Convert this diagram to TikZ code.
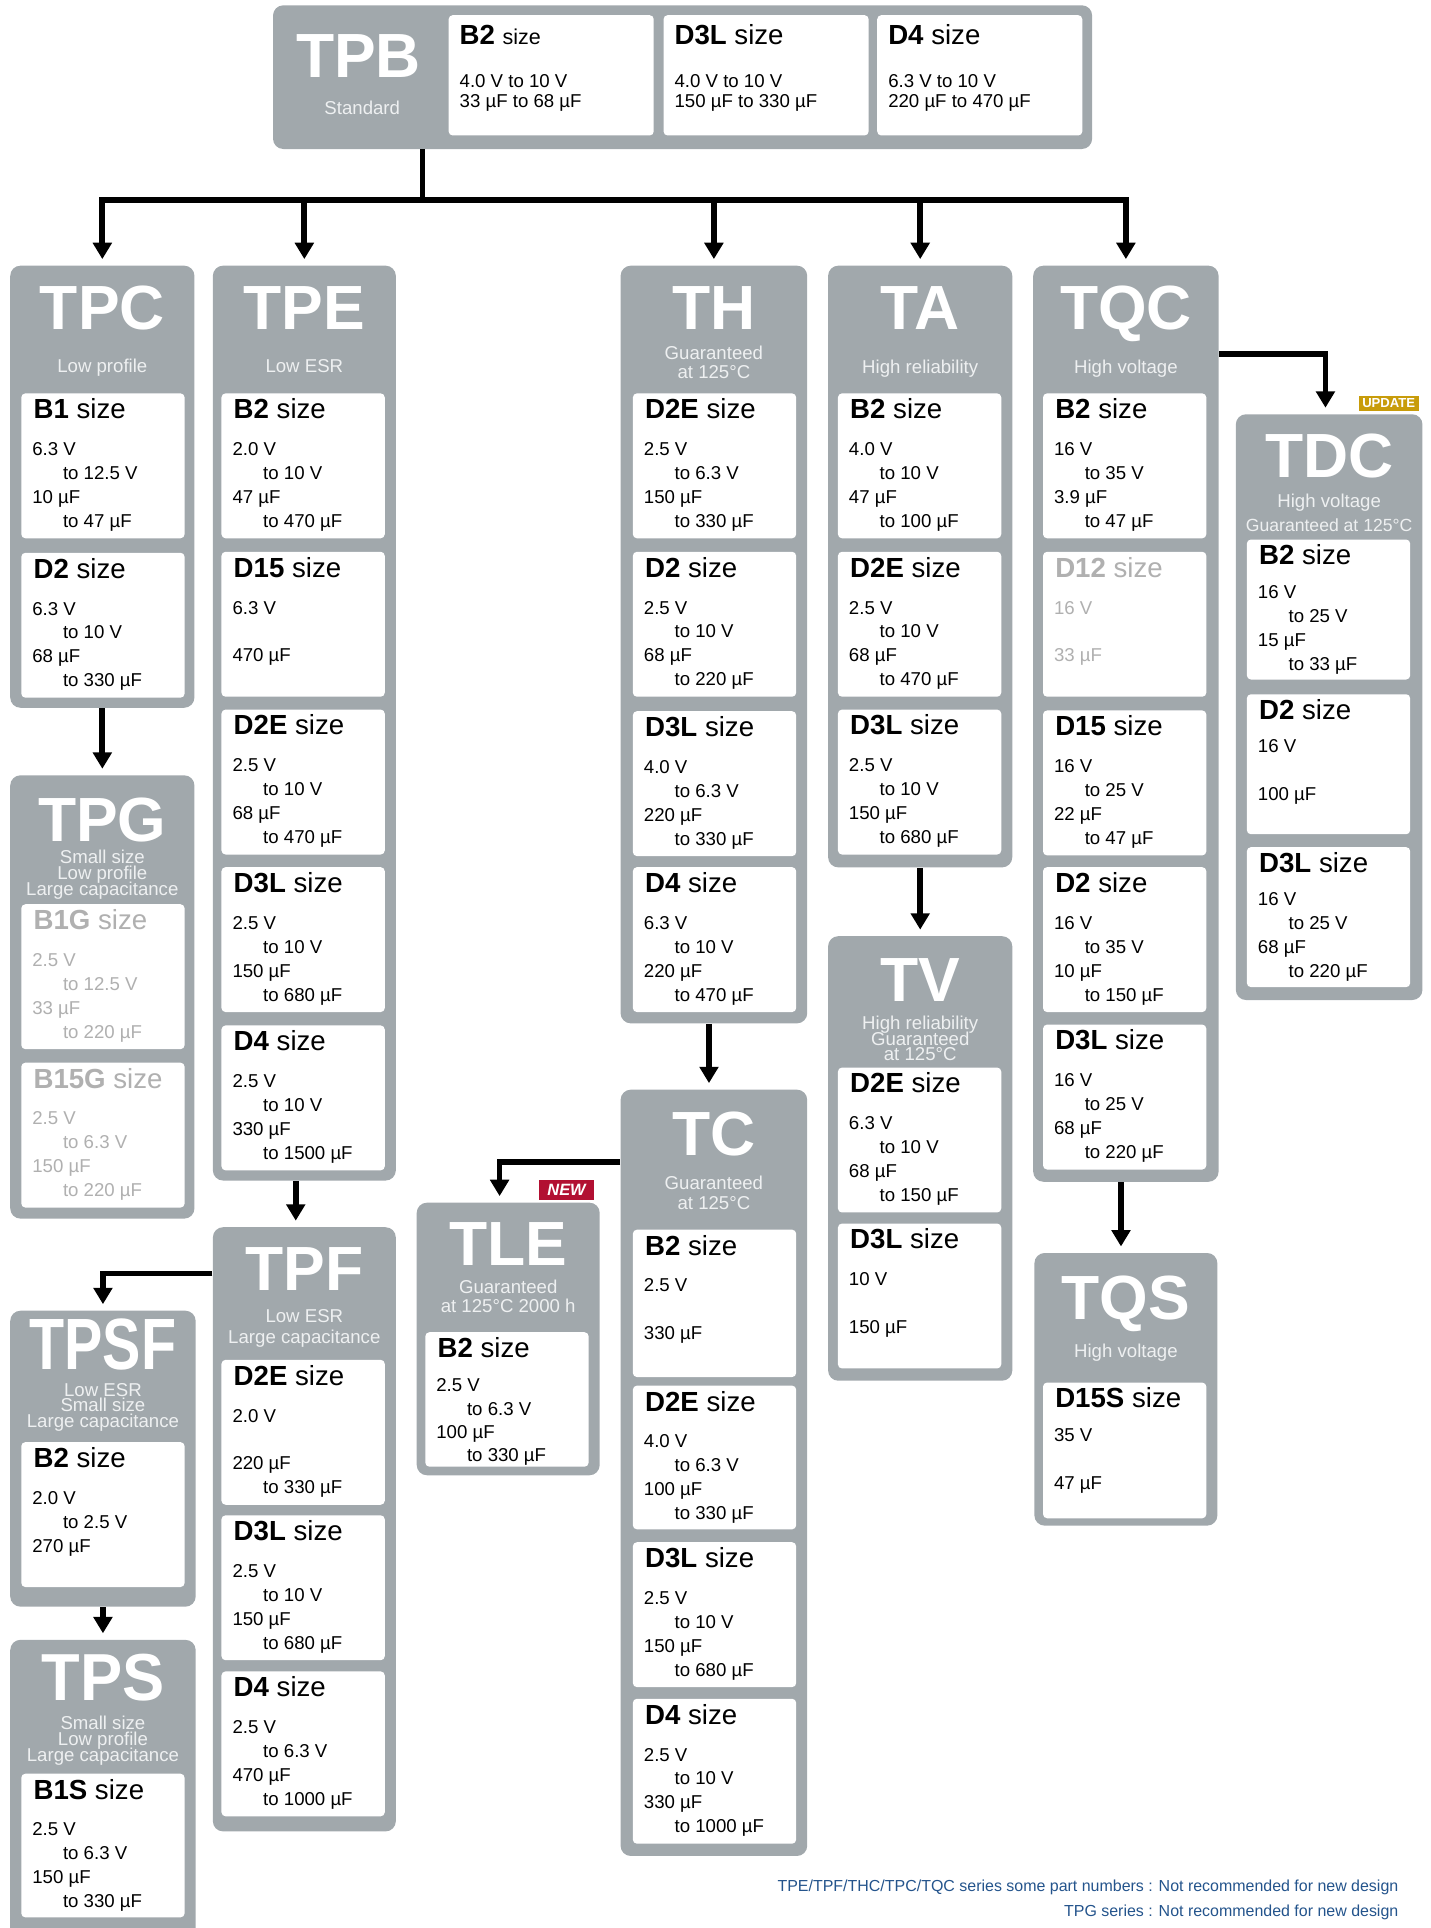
\documentclass[tikz,border=0pt]{standalone}
\usepackage{fontspec}
\usepackage{graphicx}
\setmainfont{Liberation Sans}
\usetikzlibrary{arrows.meta,calc}

\definecolor{seriesgray}{RGB}{161,168,172}
\definecolor{subwhite}{RGB}{238,240,241}
\definecolor{oldgray}{RGB}{176,176,176}
\definecolor{newred}{RGB}{178,16,50}
\definecolor{updgold}{RGB}{200,156,10}
\definecolor{noteblue}{RGB}{36,84,140}

\tikzset{
  serbox/.style={fill=seriesgray, rounded corners=5pt, inner sep=0pt, anchor=north west},
  capbox/.style={fill=white, rounded corners=2pt, inner sep=0pt, anchor=north west, minimum width=133*0.6pt},
  sertitle/.style={text=white, font=\fontsize{30.5}{31}\selectfont\bfseries, anchor=base, inner sep=0pt},
  sersub/.style={text=subwhite, font=\fontsize{9.1}{10}\selectfont, anchor=base, inner sep=0pt},
  caphead/.style={font=\fontsize{13.5}{15}\selectfont, anchor=base west, inner sep=0pt},
  captext/.style={font=\fontsize{9.1}{10}\selectfont, anchor=base west, inner sep=0pt},
  note/.style={text=noteblue, font=\fontsize{7.8}{9}\selectfont, anchor=base east, inner sep=0pt},
  badge/.style={text=white, inner sep=0pt, anchor=north west},
  feed/.style={line width=2.8pt, -{Triangle[width=9pt,length=8pt]}, shorten >=3pt},
  wd/.style={minimum width=#1*0.6pt},
  ht/.style={minimum height=#1*0.6pt},
}

\newcommand{\tto}{\hspace*{15pt}to\ }
\newcommand{\firstline}{51}
\newcommand{\linestep}{19.5}

% one white size box: [colour]{name}{x}{top}{height}{size}{value lines}
\newcommand{\sizebox}[7][black]{%
  \node[capbox, ht=#5] (#2) at (#3,#4) {};
  \node[caphead, text=#1] (#2-h) at ($(#2.north west)+(10,21)$) {\textbf{#6} size};
  \foreach \val [count=\k] in {#7}
    \node[captext, text=#1] (#2-\k) at ($(#2.north west)+(9,{\firstline+\linestep*(\k-1)})$) {\val};
}
% the wide boxes of the top row: {name}{x}{heading}{voltage}{capacitance}
\newcommand{\widebox}[5]{%
  \node[capbox, wd=167, ht=98] (#1) at (#2,12) {};
  \node[caphead] (#1-h) at ($(#1.north west)+(9,24.6)$) {#3};
  \node[captext] (#1-1) at ($(#1.north west)+(9,59)$) {#4};
  \node[captext] (#1-2) at ($(#1.north west)+(9,75.4)$) {#5};
}
% subtitle lines under a series name: {series}{first baseline}{step}{lines}
\newcommand{\subs}[4]{%
  \foreach \s [count=\k] in {#4}
    \node[sersub] (#1-s\k) at ($(#1.north)+(0,{#2+#3*(\k-1)})$) {\s};
}

\begin{document}
\begin{tikzpicture}[x=0.6pt, y=-0.6pt]
\useasboundingbox (0,0) rectangle (1165,1570);

% standard series on top
\node[serbox, wd=667, ht=117] (tpb) at (222,4) {};
\node[sertitle] (tpb-t) at ($(tpb.north west)+(70,59)$) {TPB};
\node[sersub] (tpb-s1) at ($(tpb.north west)+(73,89)$) {Standard};
\widebox{tpb-b2}{365}{\textbf{B2} {\fontsize{10.5}{12}\selectfont size}}{4.0 V to 10 V}{33 µF to 68 µF}
\widebox{tpb-d3l}{540}{\textbf{D3L} size}{4.0 V to 10 V}{150 µF to 330 µF}
\widebox{tpb-d4}{714}{\textbf{D4} size}{6.3 V to 10 V}{220 µF to 470 µF}

% TPC
\node[serbox, wd=150, ht=360] (tpc) at (8,216) {};
\node[sertitle] (tpc-t) at ($(tpc.north)+(0,52.7)$) {TPC};
\subs{tpc}{87.5}{0}{Low profile}
\sizebox{tpc-b1}{17}{320}{118}{B1}{6.3 V, \tto 12.5 V, 10 µF, \tto 47 µF}
\sizebox{tpc-d2}{17}{449.8}{118}{D2}{6.3 V, \tto 10 V, 68 µF, \tto 330 µF}

% TPE
\node[serbox, wd=149, ht=745] (tpe) at (173,216) {};
\node[sertitle] (tpe-t) at ($(tpe.north)+(0,52.7)$) {TPE};
\subs{tpe}{87.5}{0}{Low ESR}
\sizebox{tpe-b2}{180}{320}{118}{B2}{2.0 V, \tto 10 V, 47 µF, \tto 470 µF}
\sizebox{tpe-d15}{180}{449}{118}{D15}{6.3 V, , 470 µF}
\sizebox{tpe-d2e}{180}{577.5}{118}{D2E}{2.5 V, \tto 10 V, 68 µF, \tto 470 µF}
\sizebox{tpe-d3l}{180}{705.8}{118}{D3L}{2.5 V, \tto 10 V, 150 µF, \tto 680 µF}
\sizebox{tpe-d4}{180}{834.7}{118}{D4}{2.5 V, \tto 10 V, 330 µF, \tto 1500 µF}

% TH
\node[serbox, wd=152, ht=617] (th) at (505,216) {};
\node[sertitle] (th-t) at ($(th.north)+(0,52.7)$) {TH};
\subs{th}{76.5}{16}{Guaranteed, at 125°C}
\sizebox{th-d2e}{515}{320}{118}{D2E}{2.5 V, \tto 6.3 V, 150 µF, \tto 330 µF}
\sizebox{th-d2}{515}{449}{118}{D2}{2.5 V, \tto 10 V, 68 µF, \tto 220 µF}
\sizebox{th-d3l}{515}{578.8}{118}{D3L}{4.0 V, \tto 6.3 V, 220 µF, \tto 330 µF}
\sizebox{th-d4}{515}{705.8}{118}{D4}{6.3 V, \tto 10 V, 220 µF, \tto 470 µF}

% TA
\node[serbox, wd=150, ht=490] (ta) at (674,216) {};
\node[sertitle] (ta-t) at ($(ta.north)+(0,52.7)$) {TA};
\subs{ta}{88.5}{0}{High reliability}
\sizebox{ta-b2}{682}{320}{118}{B2}{4.0 V, \tto 10 V, 47 µF, \tto 100 µF}
\sizebox{ta-d2e}{682}{449}{118}{D2E}{2.5 V, \tto 10 V, 68 µF, \tto 470 µF}
\sizebox{ta-d3l}{682}{577.5}{118}{D3L}{2.5 V, \tto 10 V, 150 µF, \tto 680 µF}

% TQC
\node[serbox, wd=151, ht=746] (tqc) at (841,216) {};
\node[sertitle] (tqc-t) at ($(tqc.north)+(0,52.7)$) {TQC};
\subs{tqc}{88.5}{0}{High voltage}
\sizebox{tqc-b2}{849}{320}{118}{B2}{16 V, \tto 35 V, 3.9 µF, \tto 47 µF}
\sizebox[oldgray]{tqc-d12}{849}{449}{118}{D12}{16 V, , 33 µF}
\sizebox{tqc-d15}{849}{578.2}{118}{D15}{16 V, \tto 25 V, 22 µF, \tto 47 µF}
\sizebox{tqc-d2}{849}{705.8}{118}{D2}{16 V, \tto 35 V, 10 µF, \tto 150 µF}
\sizebox{tqc-d3l}{849}{834}{118}{D3L}{16 V, \tto 25 V, 68 µF, \tto 220 µF}

% TPG
\node[serbox, wd=150, ht=361] (tpg) at (8,631) {};
\node[sertitle] (tpg-t) at ($(tpg.north)+(0,54)$) {TPG};
\subs{tpg}{72}{13}{Small size, Low profile, Large capacitance}
\sizebox[oldgray]{tpg-b1g}{17}{736}{118}{B1G}{2.5 V, \tto 12.5 V, 33 µF, \tto 220 µF}
\sizebox[oldgray]{tpg-b15g}{17}{865}{118}{B15G}{2.5 V, \tto 6.3 V, 150 µF, \tto 220 µF}

% TPF
\node[serbox, wd=149, ht=492] (tpf) at (173,999) {};
\node[sertitle] (tpf-t) at ($(tpf.north)+(0,52)$) {TPF};
\subs{tpf}{77.7}{17.3}{Low ESR, Large capacitance}
\sizebox{tpf-d2e}{180}{1107}{118}{D2E}{2.0 V, , 220 µF, \tto 330 µF}
\sizebox{tpf-d3l}{180}{1233.6}{118}{D3L}{2.5 V, \tto 10 V, 150 µF, \tto 680 µF}
\sizebox{tpf-d4}{180}{1360.7}{118}{D4}{2.5 V, \tto 6.3 V, 470 µF, \tto 1000 µF}

% TPSF and TPS
\node[serbox, wd=151, ht=241] (tpsf) at (8,1067) {};
\node[sertitle, font=\fontsize{35.5}{36}\selectfont\bfseries] (tpsf-t) at ($(tpsf.north)+(0,48)$) {\scalebox{0.79}[1]{TPSF}};
\subs{tpsf}{70}{12.7}{Low ESR, Small size, Large capacitance}
\sizebox{tpsf-b2}{17}{1174}{118}{B2}{2.0 V, \tto 2.5 V, 270 µF}

\node[serbox, wd=151, ht=260] (tps) at (8,1335) {};
\node[sertitle, font=\fontsize{32.5}{33}\selectfont\bfseries] (tps-t) at ($(tps.north)+(0,49.5)$) {\scalebox{0.95}[1]{TPS}};
\subs{tps}{73}{13}{Small size, Low profile, Large capacitance}
\sizebox{tps-b1s}{17}{1444}{117}{B1S}{2.5 V, \tto 6.3 V, 150 µF, \tto 330 µF}

% TC
\node[serbox, wd=152, ht=624] (tc) at (505,887) {};
\node[sertitle] (tc-t) at ($(tc.north)+(0,53.6)$) {TC};
\subs{tc}{82}{15.8}{Guaranteed, at 125°C}
\sizebox{tc-b2}{515}{1001}{120}{B2}{2.5 V, , 330 µF}
\sizebox{tc-d2e}{515}{1128}{117}{D2E}{4.0 V, \tto 6.3 V, 100 µF, \tto 330 µF}
\sizebox{tc-d3l}{515}{1255.5}{118}{D3L}{2.5 V, \tto 10 V, 150 µF, \tto 680 µF}
\sizebox{tc-d4}{515}{1383}{118}{D4}{2.5 V, \tto 10 V, 330 µF, \tto 1000 µF}

% TV
\node[serbox, wd=150, ht=362] (tv) at (674,762) {};
\node[sertitle] (tv-t) at ($(tv.north)+(0,53.8)$) {TV};
\subs{tv}{76.5}{12.6}{High reliability, Guaranteed, at 125°C}
\sizebox{tv-d2e}{682}{869}{118}{D2E}{6.3 V, \tto 10 V, 68 µF, \tto 150 µF}
\sizebox{tv-d3l}{682}{996}{118}{D3L}{10 V, , 150 µF}

% TLE
\renewcommand{\firstline}{49}
\renewcommand{\linestep}{19}
\node[serbox, wd=149, ht=222] (tle) at (339,979) {};
\node[sertitle] (tle-t) at ($(tle.north)+(0,51.2)$) {TLE};
\subs{tle}{74.2}{15.8}{Guaranteed, at 125°C 2000 h}
\sizebox{tle-b2}{346}{1084.5}{109.5}{B2}{2.5 V, \tto 6.3 V, 100 µF, \tto 330 µF}

% TQS
\renewcommand{\firstline}{48}
\renewcommand{\linestep}{19.5}
\node[serbox, wd=149, ht=222] (tqs) at (842,1020) {};
\node[sertitle] (tqs-t) at ($(tqs.north)+(0,54.7)$) {TQS};
\subs{tqs}{85.3}{0}{High voltage}
\sizebox{tqs-d15s}{849}{1125.5}{110.5}{D15S}{35 V, , 47 µF}

% TDC
\renewcommand{\linestep}{19.6}
\node[serbox, wd=152, ht=477] (tdc) at (1006,337) {};
\node[sertitle] (tdc-t) at ($(tdc.north)+(0,52)$) {TDC};
\subs{tdc}{76.5}{19}{High voltage, {\fontsize{8.6}{9}\selectfont Guaranteed at 125°C}}
\sizebox{tdc-b2}{1015}{439}{114}{B2}{16 V, \tto 25 V, 15 µF, \tto 33 µF}
\sizebox{tdc-d2}{1015}{565}{114}{D2}{16 V, , 100 µF}
\sizebox{tdc-d3l}{1015}{689.5}{114}{D3L}{16 V, \tto 25 V, 68 µF, \tto 220 µF}

% badges
\node[badge, fill=updgold, wd=49, ht=12, font=\fontsize{6.4}{7}\selectfont\bfseries] (upd) at (1106,322) {UPDATE};
\node[badge, fill=newred, wd=45, ht=16, font=\fontsize{8}{9}\selectfont\bfseries\itshape] (new) at (438.5,960.5) {NEW};

% connectors
\coordinate (bus) at (344,163);
\draw[line width=2.8pt] (tpb.south -| bus) -- (bus);
\foreach \dst in {tpc,tpe,th,ta,tqc}
  \draw[feed] (bus) -| (\dst.north);
\draw[feed] (tpc.south) -- (tpg.north);
\draw[feed] ($(tpe.south)+(-7,0)$) -- ($(tpf.north)+(-7,0)$);
\draw[feed] ($(tpf.north west)+(0,38)$) -| (tpsf.north);
\draw[feed] (tpsf.south) -- (tps.north);
\draw[feed] ($(th.south)+(-4,0)$) -- ($(tc.north)+(-4,0)$);
\draw[feed] ($(tc.north west)+(0,59)$) -| ($(tle.north)+(-7,0)$);
\draw[feed] (ta.south) -- (tv.north);
\draw[feed] ($(tqc.north east)+(0,72)$) -| ($(tdc.north)+(-3,0)$);
\draw[feed] ($(tqc.south)+(-4,0)$) -- ($(tqs.north)+(-4,0)$);

% footnotes
\node[note] (note1) at (1139,1540) {TPE/TPF/THC/TPC/TQC series some part numbers : Not recommended for new design};
\node[note] (note2) at (1139,1561) {TPG series : Not recommended for new design};
\end{tikzpicture}
\end{document}
